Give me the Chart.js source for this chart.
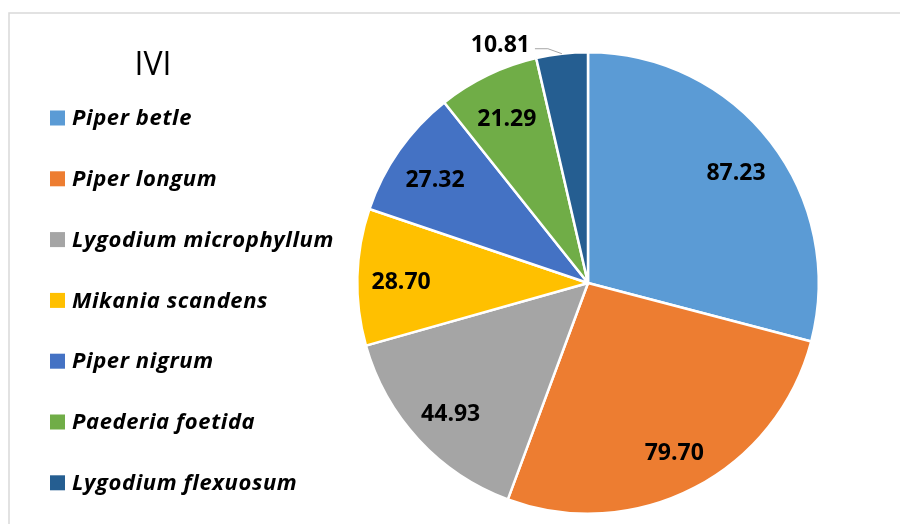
<!DOCTYPE html>
<html>
<head>
<meta charset="utf-8">
<script src="https://cdn.jsdelivr.net/npm/chart.js@4"></script>
<style>
  body { margin: 0; background: #fff; }
  #wrap { width: 900px; height: 524px; position: relative; }
</style>
</head>
<body>
<div id="wrap"><canvas id="c"></canvas></div>
<script>
const chartTitle = 'IVI';
const species = ['Piper betle', 'Piper longum', 'Lygodium microphyllum', 'Mikania scandens',
                 'Piper nigrum', 'Paederia foetida', 'Lygodium flexuosum'];
const ivi = [87.23, 79.70, 44.93, 28.70, 27.32, 21.29, 10.81];
const sliceColors = ['#5B9BD5', '#ED7D31', '#A5A5A5', '#FFC000', '#4472C4', '#70AD47', '#255E91'];

// frame lines like the office chart border
const framePlugin = {
  id: 'frame',
  beforeDraw(chart) {
    const ctx = chart.ctx;
    ctx.save();
    ctx.strokeStyle = '#D9D9D9';
    ctx.lineWidth = 1.5;
    ctx.beginPath();
    ctx.moveTo(9, 524);
    ctx.lineTo(9, 13);
    ctx.lineTo(900, 13);
    ctx.stroke();
    ctx.restore();
  }
};

// legend on the left, with the title above it
const sideLegend = {
  id: 'sideLegend',
  afterDraw(chart) {
    const ctx = chart.ctx;
    const ds = chart.data.datasets[0];
    ctx.save();
    ctx.fillStyle = '#000';
    ctx.font = '32px "Open Sans"';
    ctx.textAlign = 'center';
    ctx.textBaseline = 'middle';
    ctx.fillText(chartTitle, 153, 66);

    ctx.font = 'italic bold 22px "Open Sans"';
    ctx.letterSpacing = '0.6px';
    ctx.textAlign = 'left';
    chart.data.labels.forEach((lab, i) => {
      const y = 118 + i * 60.8;
      ctx.fillStyle = ds.backgroundColor[i];
      ctx.fillRect(50, y - 7.5, 15, 15);
      ctx.fillStyle = '#000';
      ctx.fillText(lab, 72, y + 1);
    });
    ctx.restore();
  }
};

// value labels inside slices, small slices get a leader line outside
const sliceLabels = {
  id: 'sliceLabels',
  afterDatasetsDraw(chart) {
    const ctx = chart.ctx;
    const meta = chart.getDatasetMeta(0);
    const vals = chart.data.datasets[0].data;
    const total = vals.reduce((a, b) => a + b, 0);
    ctx.save();
    ctx.font = 'bold 23px "Open Sans"';
    ctx.fillStyle = '#000';
    meta.data.forEach((arc, i) => {
      const p = arc.getProps(['x', 'y', 'startAngle', 'endAngle', 'outerRadius'], true);
      const mid = (p.startAngle + p.endAngle) / 2;
      const txt = vals[i].toFixed(2);
      if (vals[i] / total < 0.05) {
        const x0 = p.x + Math.cos(mid) * p.outerRadius;
        const y0 = p.y + Math.sin(mid) * p.outerRadius;
        const x1 = x0 - 14, y1 = y0 - 5;
        const x2 = x1 - 13;
        ctx.strokeStyle = '#A6A6A6';
        ctx.lineWidth = 1;
        ctx.beginPath();
        ctx.moveTo(x0, y0);
        ctx.lineTo(x1, y1);
        ctx.lineTo(x2, y1);
        ctx.stroke();
        ctx.textAlign = 'right';
        ctx.textBaseline = 'alphabetic';
        ctx.fillText(txt, x2 - 5, y1 + 3);
      } else {
        const r = p.outerRadius * 0.81;
        ctx.textAlign = 'center';
        ctx.textBaseline = 'alphabetic';
        ctx.fillText(txt, p.x + Math.cos(mid) * r, p.y + Math.sin(mid) * r + 11);
      }
    });
    ctx.restore();
  }
};

function draw() {
  new Chart(document.getElementById('c'), {
    type: 'pie',
    data: {
      labels: species,
      datasets: [{
        data: ivi,
        backgroundColor: sliceColors,
        borderColor: '#fff',
        borderWidth: 2.5
      }]
    },
    options: {
      responsive: true,
      maintainAspectRatio: false,
      animation: false,
      layout: { padding: { top: 51, bottom: 9, left: 356, right: 80 } },
      plugins: {
        legend: { display: false },
        tooltip: { enabled: false }
      }
    },
    plugins: [framePlugin, sideLegend, sliceLabels]
  });
}

Promise.all([
  document.fonts.load('32px "Open Sans"'),
  document.fonts.load('italic bold 22px "Open Sans"'),
  document.fonts.load('bold 23px "Open Sans"')
]).then(draw, draw);
</script>
</body>
</html>
